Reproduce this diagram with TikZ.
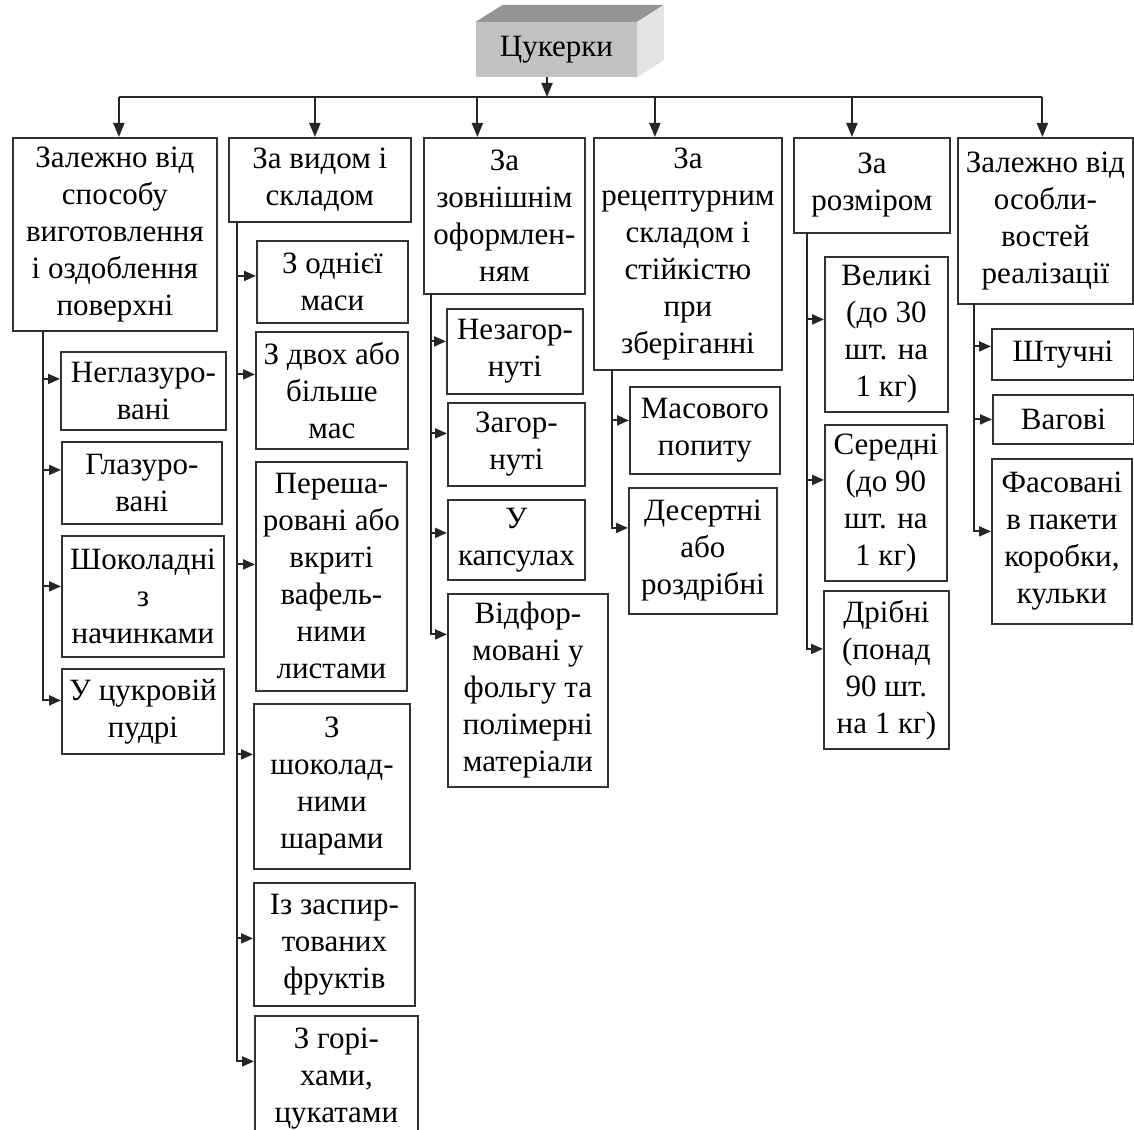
\documentclass[tikz,border=0pt]{standalone}
\usepackage{fontspec}
\setmainfont{Liberation Serif}
\usetikzlibrary{arrows.meta}

\tikzset{
  box/.style={draw=black!80, line width=1.8pt, fill=white, align=center,
    anchor=north west, inner sep=0pt, font=\fontsize{31}{37}\selectfont},
  link/.style={draw=black!85, line width=2pt},
  arr/.style={link, -{Triangle[length=12pt,width=10pt]}},
  downarr/.style={link, -{Triangle[length=14pt,width=11pt]}},
}

\begin{document}
\begin{tikzpicture}[x=1pt,y=-1pt]
    \clip (0,0) rectangle (1134,1129);
    \fill[white] (0,0) rectangle (1134,1129);

    % Root block
    \node[fill=black!24, minimum width=161pt, minimum height=55pt, inner sep=0pt,
      font=\fontsize{31}{37}\selectfont] (root) at (556.5,49.5) {Цукерки};
    \fill[black!42] (root.north west) -- ++(27,-17) -- ++(161,0) -- (root.north east) -- cycle;
    \fill[black!11] (root.north east) -- ++(27,-17) -- ++(0,55) -- (root.south east) -- cycle;
    \coordinate (bus) at (547,97);
    \draw[downarr] (bus |- root.south) -- (bus);

    % Criteria
    \node[box, minimum width=204pt, minimum height=193pt] (c1) at (12,137)
      {Залежно від\\способу\\виготовлення\\і оздоблення\\поверхні};
    \node[box, minimum width=182pt, minimum height=84pt] (c2) at (228,137)
      {За видом і\\складом};
    \node[box, minimum width=161pt, minimum height=156pt] (c3) at (423,137)
      {За\\зовнішнім\\оформлен-\\ням};
    \node[box, minimum width=188pt, minimum height=232pt] (c4) at (593,137)
      {За\\рецептурним\\складом і\\стійкістю\\при\\зберіганні};
    \node[box, minimum width=156pt, minimum height=95pt] (c5) at (793,137)
      {За\\розміром};
    \node[box, minimum width=175pt, minimum height=166pt] (c6) at (957,137)
      {Залежно від\\особли-\\востей\\реалізації};

    \draw[link] ([xshift=4pt]c1.north |- bus) -- ([xshift=-3pt]c6.north |- bus);
    \foreach \i/\s in {1/4,2/-5,3/-27,4/-33,5/-20,6/-3}
      \draw[downarr] ([xshift=\s pt]c\i.north |- bus) -- ([xshift=\s pt]c\i.north);

    % Column 1
    \node[box, minimum width=165pt, minimum height=78pt] (a1) at (60,351) {Неглазуро-\\вані};
    \node[box, minimum width=160pt, minimum height=82pt] (a2) at (61,441) {Глазуро-\\вані};
    \node[box, minimum width=162pt, minimum height=121pt] (a3) at (61,535) {Шоколадні\\з\\начинками};
    \node[box, minimum width=162pt, minimum height=85pt] (a4) at (61,668) {У цукровій\\пудрі};
    \coordinate (t1) at (43,330);
    \foreach \n/\s in {a1/12,a2/13,a3/10,a4/11}
      \draw[arr] (t1) |- ([yshift=\s pt]\n.west);

    % Column 2
    \node[box, minimum width=151pt, minimum height=82pt] (b1) at (256,240) {З однієї\\маси};
    \node[box, minimum width=152pt, minimum height=117pt] (b2) at (255,331) {З двох або\\більше\\мас};
    \node[box, minimum width=151pt, minimum height=229pt] (b3) at (255,461)
      {Переша-\\ровані або\\вкриті\\вафель-\\ними\\листами};
    \node[box, minimum width=156pt, minimum height=165pt] (b4) at (253,703) {З\\шоколад-\\ними\\шарами};
    \node[box, minimum width=161pt, minimum height=123pt] (b5) at (253,882) {Із заспир-\\тованих\\фруктів};
    \node[box, minimum width=163pt, minimum height=125pt] (b6) at (254,1015) {З горі-\\хами,\\цукатами};
    \coordinate (t2) at (237,221);
    \foreach \n/\s in {b1/6,b2/16,b3/12,b4/32,b5/6,b6/17}
      \draw[arr] (t2) |- ([yshift=\s pt]\n.west);

    % Column 3
    \node[box, minimum width=136pt, minimum height=85pt] (e1) at (446,308) {Незагор-\\нуті};
    \node[box, minimum width=137pt, minimum height=83pt] (e2) at (447,402) {Загор-\\нуті};
    \node[box, minimum width=137pt, minimum height=80pt] (e3) at (447,499) {У\\капсулах};
    \node[box, minimum width=160pt, minimum height=193pt] (e4) at (447,593)
      {Відфор-\\мовані у\\фольгу та\\полімерні\\матеріали};
    \coordinate (t3) at (431,293);
    \foreach \n/\s in {e1/10,e2/11,e3/7,e4/56}
      \draw[arr] (t3) |- ([yshift=\s pt]\n.west);

    % Column 4
    \node[box, minimum width=150pt, minimum height=87pt] (f1) at (629,386) {Масового\\попиту};
    \node[box, minimum width=148pt, minimum height=126pt] (f2) at (628,487) {Десертні\\або\\роздрібні};
    \coordinate (t4) at (612,369);
    \foreach \n/\s in {f1/10,f2/23}
      \draw[arr] (t4) |- ([yshift=\s pt]\n.west);

    % Column 5
    \node[box, minimum width=123pt, minimum height=155pt] (g1) at (824,256) {Великі\\(до 30\\шт. на\\1 кг)};
    \node[box, minimum width=122pt, minimum height=156pt] (g2) at (824,424) {Середні\\(до 90\\шт. на\\1 кг)};
    \node[box, minimum width=125pt, minimum height=158pt] (g3) at (823,590) {Дрібні\\(понад\\90 шт.\\на 1 кг)};
    \coordinate (t5) at (807,232);
    \foreach \n/\s in {g1/15,g2/23,g3/21}
      \draw[arr] (t5) |- ([yshift=\s pt]\n.west);

    % Column 6
    \node[box, minimum width=142pt, minimum height=51pt] (h1) at (991,328) {Штучні};
    \node[box, minimum width=141pt, minimum height=49pt] (h2) at (992,394) {Вагові};
    \node[box, minimum width=140pt, minimum height=165pt] (h3) at (991,458)
      {Фасовані\\в пакети\\коробки,\\кульки};
    \coordinate (t6) at (974,303);
    \foreach \n/\s in {h1/8,h2/0,h3/10}
      \draw[arr] (t6) |- ([yshift=\s pt]\n.west);
\end{tikzpicture}
\end{document}
